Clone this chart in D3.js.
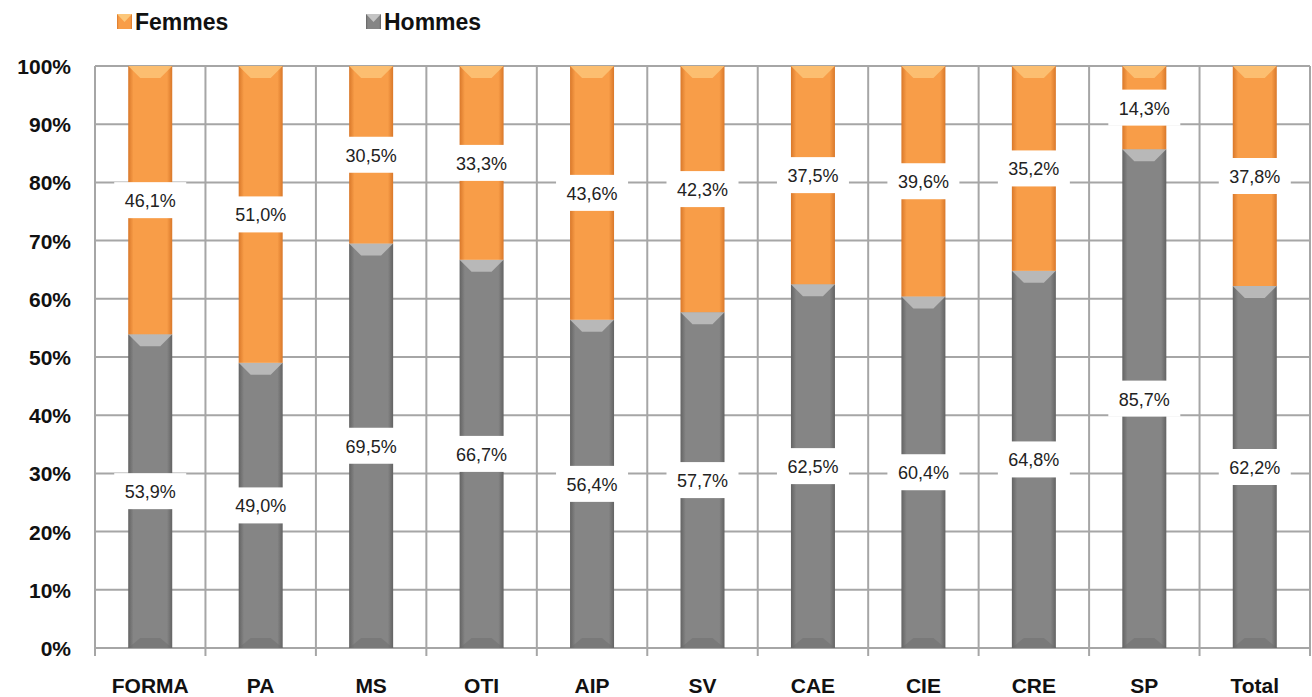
<!DOCTYPE html><html><head><meta charset="utf-8"><script src="https://cdn.jsdelivr.net/npm/d3@7"></script>
<style>body{margin:0;background:#fff}text{font-family:"Liberation Sans",Arial,sans-serif}</style></head><body><svg id="c" width="1312" height="697"></svg>
<script>
const categories=["FORMA","PA","MS","OTI","AIP","SV","CAE","CIE","CRE","SP","Total"];
const hommes=[53.9,49.0,69.5,66.7,56.4,57.7,62.5,60.4,64.8,85.7,62.2];
const femmes=[46.1,51.0,30.5,33.3,43.6,42.3,37.5,39.6,35.2,14.3,37.8];
const yTicks=[0,10,20,30,40,50,60,70,80,90,100];
const svg=d3.select("#c");
const L=95,R=1310,T=66,B=648;
const x=d3.scaleBand().domain(categories).range([L,R]);
const y=d3.scaleLinear().domain([0,100]).range([B,T]);
const defs=svg.append("defs");
function grad(id,c1,c2){const g=defs.append("linearGradient").attr("id",id).attr("x1",0).attr("x2",1);
 [[0,c2],[0.12,c1],[0.88,c1],[1,c2]].forEach(s=>g.append("stop").attr("offset",s[0]).attr("stop-color",s[1]));}
grad("go","#f89d48","#d9782a");grad("gg","#858585","#636363");
const g=svg.append("g");
g.selectAll(".hg").data(yTicks).join("line").attr("x1",L).attr("x2",R).attr("y1",d=>y(d)).attr("y2",d=>y(d)).attr("stroke","#a6a6a6").attr("stroke-width",2);
const bounds=categories.map(c=>x(c)).concat([R]);
g.selectAll(".vg").data(bounds).join("line").attr("x1",d=>d).attr("x2",d=>d).attr("y1",T).attr("y2",B+8).attr("stroke","#a6a6a6").attr("stroke-width",2);
svg.append("g").selectAll("text").data(yTicks).join("text").attr("x",71).attr("y",d=>y(d)+8).attr("text-anchor","end").attr("font-size",21).attr("font-weight","bold").attr("fill","#111").text(d=>d+"%");
svg.append("g").selectAll("text").data(categories).join("text").attr("x",d=>x(d)+x.bandwidth()/2).attr("y",693).attr("text-anchor","middle").attr("font-size",21).attr("font-weight","bold").attr("fill","#111").text(d=>d);
const bw=44;
const segs=[];
categories.forEach((c,i)=>{segs.push({c,y0:0,y1:hommes[i],v:hommes[i],k:"h"});segs.push({c,y0:hommes[i],y1:100,v:femmes[i],k:"f"});});
const bg=svg.append("g");
segs.forEach(s=>{
 const cx=x(s.c)+x.bandwidth()/2,x0=cx-bw/2,top=y(s.y1),bot=y(s.y0);
 bg.append("rect").attr("x",x0).attr("y",top).attr("width",bw).attr("height",bot-top).attr("fill",s.k=="f"?"url(#go)":"url(#gg)");
 bg.append("path").attr("d",`M${x0},${top}L${x0+bw},${top}L${x0+bw-12},${top+12}L${x0+12},${top+12}Z`).attr("fill",s.k=="f"?"#fcc77a":"#c4c4c4").attr("opacity",0.8);
 if(s.k=="h")bg.append("path").attr("d",`M${x0},${bot}L${x0+bw},${bot}L${x0+bw-12},${bot-10}L${x0+12},${bot-10}Z`).attr("fill","#6e6e6e").attr("opacity",0.5);
});
const lg=svg.append("g");
segs.forEach(s=>{
 const cx=x(s.c)+x.bandwidth()/2,cy=y((s.y0+s.y1)/2);
 lg.append("rect").attr("x",cx-36).attr("y",cy-18).attr("width",72).attr("height",36).attr("fill","#fff");
 lg.append("text").attr("x",cx).attr("y",cy+7).attr("text-anchor","middle").attr("font-size",18).attr("fill","#222").text(s.v.toFixed(1).replace(".",",")+"%");
});
const leg=svg.append("g");
[["Femmes","url(#go)",117],["Hommes","url(#gg)",366]].forEach(l=>{
 leg.append("rect").attr("x",l[2]).attr("y",14).attr("width",15).attr("height",15).attr("fill",l[1]);
 leg.append("path").attr("d",`M${l[2]},14L${l[2]+15},14L${l[2]+7.5},22Z`).attr("fill",l[0]=="Femmes"?"#fcc77a":"#c4c4c4");
 leg.append("text").attr("x",l[2]+18).attr("y",30).attr("font-size",23).attr("font-weight","bold").attr("fill","#111").text(l[0]);
});
</script></body></html>
